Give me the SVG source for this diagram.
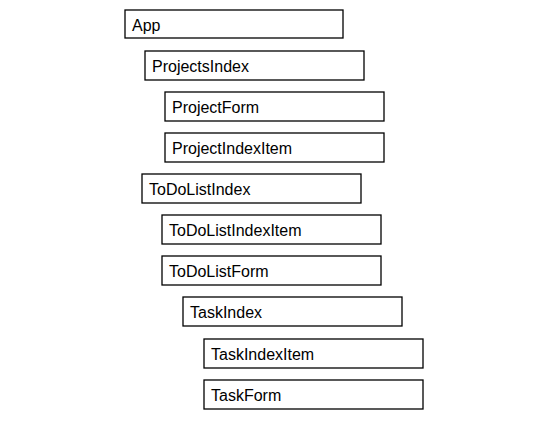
<svg xmlns="http://www.w3.org/2000/svg" width="544" height="427" viewBox="0 0 544 427">
<style>
rect.n { fill: #ffffff; stroke: #000000; stroke-width: 1.3; }
text.l { font-family: "Liberation Sans", Arial, sans-serif; font-size: 16px; fill: #000000; }
</style>
<rect x="0" y="0" width="544" height="427" fill="#ffffff"/>
<g id="connectors"></g>
<g id="app"><rect class="n" x="125" y="10" width="218" height="28"/><text class="l" x="132" y="31">App</text></g>
<g id="projectsindex"><rect class="n" x="145" y="51" width="219" height="29"/><text class="l" x="152" y="72">ProjectsIndex</text></g>
<g id="projectform"><rect class="n" x="165" y="92" width="219" height="29"/><text class="l" x="172" y="113">ProjectForm</text></g>
<g id="projectindexitem"><rect class="n" x="165" y="133" width="219" height="29"/><text class="l" x="172" y="154">ProjectIndexItem</text></g>
<g id="todolistindex"><rect class="n" x="142" y="174" width="219" height="29"/><text class="l" x="149" y="195">ToDoListIndex</text></g>
<g id="todolistindexitem"><rect class="n" x="162" y="215" width="219" height="29"/><text class="l" x="169" y="236">ToDoListIndexItem</text></g>
<g id="todolistform"><rect class="n" x="162" y="256" width="219" height="29"/><text class="l" x="169" y="277">ToDoListForm</text></g>
<g id="taskindex"><rect class="n" x="183" y="297" width="219" height="29"/><text class="l" x="190" y="318">TaskIndex</text></g>
<g id="taskindexitem"><rect class="n" x="204" y="339" width="219" height="29"/><text class="l" x="211" y="360">TaskIndexItem</text></g>
<g id="taskform"><rect class="n" x="204" y="380" width="219" height="29"/><text class="l" x="211" y="401">TaskForm</text></g>
</svg>
